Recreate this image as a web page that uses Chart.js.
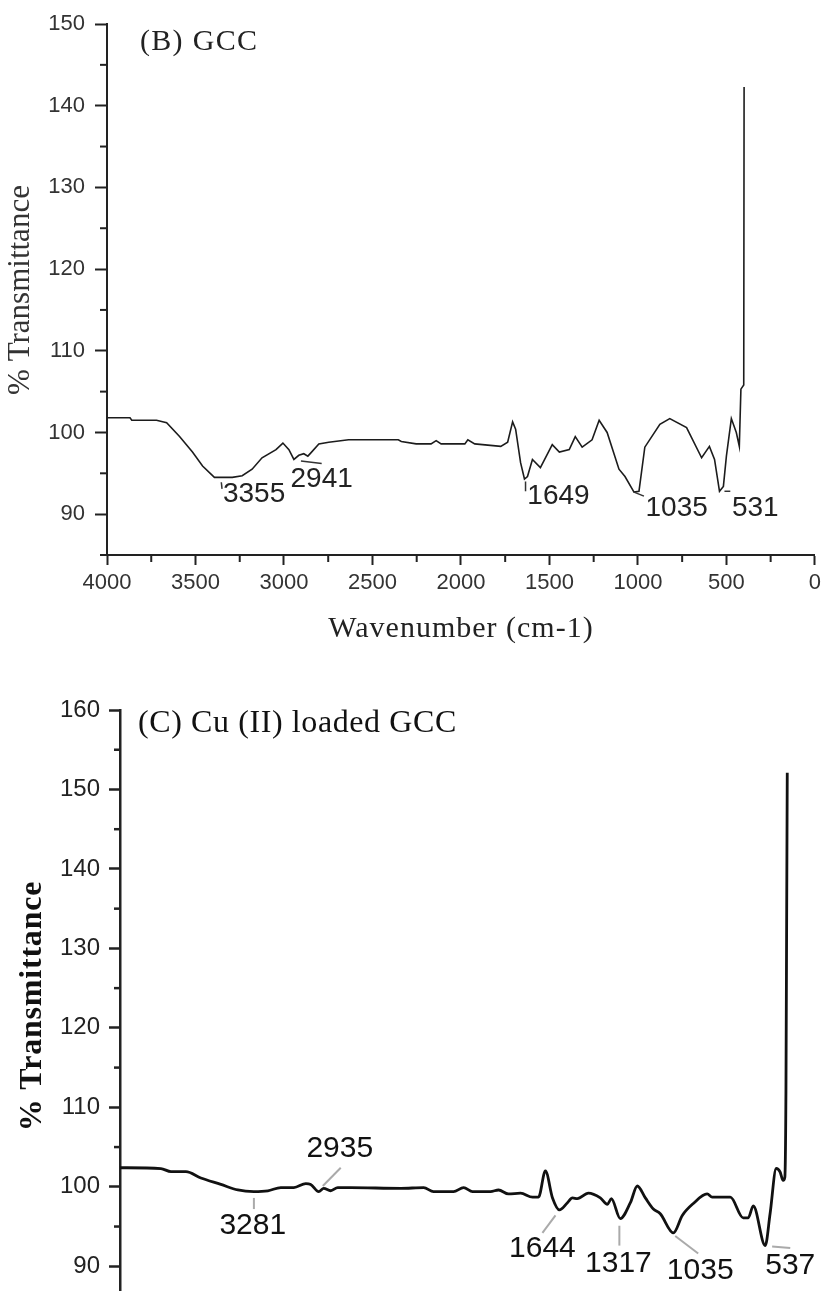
<!DOCTYPE html>
<html>
<head>
<meta charset="utf-8">
<script src="https://cdn.jsdelivr.net/npm/chart.js@4"></script>
<style>
  html, body { margin: 0; padding: 0; background: #fff; overflow: hidden; }
  #page { position: relative; width: 826px; height: 1291px; overflow: hidden; }
  #gccCanvas { position: absolute; left: 0; top: 0; }
  #cuCanvas { position: absolute; left: 0; top: 650px; }
</style>
</head>
<body>
<div id="page">
  <canvas id="gccCanvas" width="826" height="650"></canvas>
  <canvas id="cuCanvas" width="900" height="730"></canvas>
</div>
<script>
// (B) GCC spectrum
const gccWavenumber = [4000, 3870, 3860, 3720, 3663, 3590, 3517, 3460, 3393, 3292,
    3236, 3180, 3124, 3045, 3006, 2972, 2944, 2916, 2888, 2865,
    2848, 2803, 2747, 2635, 2354, 2337, 2253, 2169, 2140, 2112,
    1978, 1961, 1922, 1775, 1736, 1708, 1691, 1663, 1641, 1624,
    1596, 1551, 1484, 1444, 1388, 1354, 1315, 1259, 1219, 1174,
    1107, 1073, 1022, 994, 961, 876, 820, 725, 640, 596,
    567, 539, 517, 500, 472, 444, 427, 418, 402, 400];
const gccTransmittance = [101.8, 101.8, 101.5, 101.5, 101.2, 99.5, 97.6, 95.9, 94.5, 94.5,
    94.7, 95.5, 96.9, 97.9, 98.7, 97.9, 96.7, 97.2, 97.4, 97.1,
    97.5, 98.6, 98.8, 99.1, 99.1, 98.9, 98.6, 98.6, 99.0, 98.6,
    98.6, 99.1, 98.6, 98.3, 98.8, 101.3, 100.4, 96.3, 94.3, 94.6,
    96.7, 95.7, 98.5, 97.6, 97.9, 99.5, 98.2, 99.1, 101.5, 100.0,
    95.5, 94.6, 92.7, 92.8, 98.2, 101.0, 101.7, 100.6, 96.9, 98.3,
    96.7, 92.8, 93.4, 97.1, 101.7, 100.0, 98.3, 105.3, 105.8, 142.3];
const gccPeaks = ["3355", "2941", "1649", "1035", "531"];
const gccXTicks = [4000, 3500, 3000, 2500, 2000, 1500, 1000, 500, 0];
const gccYTicks = [90, 100, 110, 120, 130, 140, 150];

// (C) Cu (II) loaded GCC spectrum
const cuWavenumber = [4000, 3781, 3727, 3647, 3567, 3460, 3369, 3283, 3208, 3139,
    3069, 3005, 2979, 2936, 2909, 2872, 2834, 2765, 2497, 2374,
    2321, 2214, 2160, 2112, 2016, 1973, 1920, 1855, 1791, 1759,
    1722, 1684, 1647, 1604, 1577, 1551, 1492, 1428, 1390, 1369,
    1321, 1267, 1230, 1187, 1144, 1107, 1037, 989, 930, 856,
    829, 732, 663, 636, 609, 545, 519, 486, 466, 449,
    440, 434, 430, 427];
const cuTransmittance = [102.4, 102.3, 101.9, 101.9, 101.1, 100.3, 99.6, 99.4, 99.5, 99.9,
    99.9, 100.4, 100.3, 99.4, 99.8, 99.5, 99.9, 99.9, 99.8, 99.9,
    99.4, 99.4, 99.9, 99.4, 99.4, 99.6, 99.1, 99.2, 98.7, 98.7,
    102.0, 98.6, 97.1, 98.0, 98.6, 98.5, 99.2, 98.6, 97.8, 98.5,
    96.0, 98.0, 100.1, 98.6, 97.2, 96.6, 94.2, 96.4, 97.9, 99.1,
    98.7, 98.7, 96.1, 96.1, 97.6, 92.6, 96.6, 102.3, 101.9, 100.8,
    101.2, 112.0, 135.0, 152.1];
const cuPeaks = ["3281", "2935", "1644", "1317", "1035", "537"];
const cuXTicks = [4000, 3500, 3000, 2500, 2000, 1500, 1000, 500, 0];
const cuYTicks = [90, 100, 110, 120, 130, 140, 150, 160];

function toPoints(xs, ys) {
    return xs.map((x, i) => ({ x: x, y: ys[i] }));
}

function drawText(ctx, t) {
    ctx.save();
    ctx.font = t.font;
    ctx.fillStyle = t.color;
    ctx.letterSpacing = (t.spacing || 0) + "px";
    ctx.textAlign = t.align || "center";
    ctx.textBaseline = t.baseline || "alphabetic";
    ctx.translate(t.x, t.y);
    if (t.rotate) ctx.rotate(t.rotate);
    ctx.fillText(t.text, 0, 0);
    ctx.restore();
}

// minor ticks, titles and peak labels (Chart.js has no minor ticks)
const decorPlugin = {
    id: "decor",
    afterDraw(chart, args, opts) {
        const ctx = chart.ctx;
        const xScale = chart.scales.x;
        const yScale = chart.scales.y;
        ctx.save();
        ctx.strokeStyle = opts.axisColor;
        ctx.lineWidth = opts.axisWidth;
        for (let v = xScale.min; v <= xScale.max; v += opts.minorX) {
            if (v % opts.majorX === 0) continue;
            const px = xScale.getPixelForValue(v);
            ctx.beginPath();
            ctx.moveTo(px, xScale.top);
            ctx.lineTo(px, xScale.top + opts.minorLenX);
            ctx.stroke();
        }
        for (let v = yScale.min; v <= yScale.max; v += opts.minorY) {
            if (v % opts.majorY === 0) continue;
            const py = yScale.getPixelForValue(v);
            ctx.beginPath();
            ctx.moveTo(yScale.right, py);
            ctx.lineTo(yScale.right - opts.minorLenY, py);
            ctx.stroke();
        }

        // leader lines and peak numbers
        ctx.strokeStyle = opts.leaderColor;
        ctx.lineWidth = opts.leaderWidth;
        opts.peaks.forEach((p) => {
            const a = p.leader[0];
            const b = p.leader[1];
            ctx.beginPath();
            ctx.moveTo(xScale.getPixelForValue(a[0]), yScale.getPixelForValue(a[1]));
            ctx.lineTo(xScale.getPixelForValue(b[0]), yScale.getPixelForValue(b[1]));
            ctx.stroke();
            drawText(ctx, {
                text: p.text,
                x: xScale.getPixelForValue(p.at[0]),
                y: yScale.getPixelForValue(p.at[1]),
                font: opts.peakFont,
                color: opts.peakColor,
                baseline: "middle",
            });
        });
        ctx.restore();

        opts.texts.forEach((t) => drawText(ctx, t));
    },
};

// ---- panel B ----
new Chart(document.getElementById("gccCanvas").getContext("2d"), {
    type: "line",
    data: {
        datasets: [{
            data: toPoints(gccWavenumber, gccTransmittance),
            borderColor: "#1c1c1c",
            borderWidth: 1.6,
            pointRadius: 0,
            tension: 0,
        }],
    },
    options: {
        responsive: false,
        animation: false,
        layout: { padding: { top: 24, right: 7, left: 0, bottom: 0 } },
        scales: {
            x: {
                type: "linear",
                reverse: true,
                min: 0,
                max: 4000,
                afterBuildTicks: (scale) => { scale.ticks = gccXTicks.map((v) => ({ value: v })); },
                afterFit: (scale) => { scale.height = 95; },
                ticks: {
                    autoSkip: false,
                    maxRotation: 0,
                    padding: 5,
                    color: "#333",
                    font: { family: "Liberation Sans", size: 22 },
                    callback: (v) => String(v),
                },
                grid: { drawOnChartArea: false, tickLength: 10, tickWidth: 2, tickColor: "#222" },
                border: { color: "#222", width: 2 },
            },
            y: {
                min: 85,
                max: 150,
                afterBuildTicks: (scale) => { scale.ticks = gccYTicks.map((v) => ({ value: v })); },
                afterFit: (scale) => { scale.width = 107; },
                ticks: {
                    padding: 10,
                    color: "#333",
                    font: { family: "Liberation Sans", size: 22 },
                    callback: (v) => String(v),
                },
                grid: { drawOnChartArea: false, tickLength: 12, tickWidth: 2, tickColor: "#222" },
                border: { color: "#222", width: 2 },
            },
        },
        plugins: {
            legend: { display: false },
            tooltip: { enabled: false },
            decor: {
                axisColor: "#222",
                axisWidth: 2,
                minorX: 250, majorX: 500, minorLenX: 7,
                minorY: 5, majorY: 10, minorLenY: 7,
                leaderColor: "#333",
                leaderWidth: 1.5,
                peakFont: "28px 'Liberation Sans'",
                peakColor: "#222",
                peaks: [
                    { text: gccPeaks[0], at: [3169, 92.4], leader: [[3354, 93.9], [3350, 93.1]] },
                    { text: gccPeaks[1], at: [2787, 94.3], leader: [[2904, 96.5], [2787, 96.2]] },
                    { text: gccPeaks[2], at: [1449, 92.2], leader: [[1635, 94.0], [1635, 92.8]] },
                    { text: gccPeaks[3], at: [781, 90.7], leader: [[1022, 92.7], [966, 92.2]] },
                    { text: gccPeaks[4], at: [337, 90.7], leader: [[511, 92.8], [478, 92.8]] },
                ],
                texts: [
                    { text: "(B) GCC", x: 140, y: 50, align: "left", font: "30px 'Liberation Serif'", color: "#222", spacing: 1.3 },
                    { text: "% Transmittance", x: 21, y: 290, rotate: -Math.PI / 2, baseline: "middle", font: "31px 'Liberation Serif'", color: "#333" },
                    { text: "Wavenumber (cm-1)", x: 461, y: 637, font: "30px 'Liberation Serif'", color: "#222", spacing: 1 },
                ],
            },
        },
    },
    plugins: [decorPlugin],
});

// ---- panel C ----
new Chart(document.getElementById("cuCanvas").getContext("2d"), {
    type: "line",
    data: {
        datasets: [{
            data: toPoints(cuWavenumber, cuTransmittance),
            borderColor: "#111",
            borderWidth: 2.8,
            pointRadius: 0,
            cubicInterpolationMode: "monotone",
        }],
    },
    options: {
        responsive: false,
        animation: false,
        layout: { padding: { top: 60, right: 33, left: 0, bottom: 0 } },
        scales: {
            x: {
                type: "linear",
                reverse: true,
                min: 0,
                max: 4000,
                afterBuildTicks: (scale) => { scale.ticks = cuXTicks.map((v) => ({ value: v })); },
                afterFit: (scale) => { scale.height = 74; },
                ticks: {
                    autoSkip: false,
                    maxRotation: 0,
                    padding: 5,
                    color: "#222",
                    font: { family: "Liberation Sans", size: 24 },
                    callback: (v) => String(v),
                },
                grid: { drawOnChartArea: false, tickLength: 10, tickWidth: 2.5, tickColor: "#222" },
                border: { color: "#222", width: 2.5 },
            },
            y: {
                min: 85,
                max: 160,
                afterBuildTicks: (scale) => { scale.ticks = cuYTicks.map((v) => ({ value: v })); },
                afterFit: (scale) => { scale.width = 120; },
                ticks: {
                    padding: 9,
                    color: "#222",
                    font: { family: "Liberation Sans", size: 24 },
                    callback: (v) => String(v),
                },
                grid: { drawOnChartArea: false, tickLength: 11, tickWidth: 2.5, tickColor: "#222" },
                border: { color: "#222", width: 2.5 },
            },
        },
        plugins: {
            legend: { display: false },
            tooltip: { enabled: false },
            decor: {
                axisColor: "#222",
                axisWidth: 2.5,
                minorX: 250, majorX: 500, minorLenX: 6,
                minorY: 5, majorY: 10, minorLenY: 6,
                leaderColor: "#aaa",
                leaderWidth: 2,
                peakFont: "30px 'Liberation Sans'",
                peakColor: "#111",
                peaks: [
                    { text: cuPeaks[0], at: [3289, 95.1], leader: [[3283, 98.6], [3283, 97.2]] },
                    { text: cuPeaks[1], at: [2823, 104.8], leader: [[2818, 102.4], [2914, 100.1]] },
                    { text: cuPeaks[2], at: [1738, 92.2], leader: [[1668, 96.4], [1738, 94.2]] },
                    { text: cuPeaks[3], at: [1331, 90.3], leader: [[1326, 95.1], [1326, 92.6]] },
                    { text: cuPeaks[4], at: [893, 89.4], leader: [[1027, 93.8], [904, 91.6]] },
                    { text: cuPeaks[5], at: [411, 90.1], leader: [[508, 92.5], [411, 92.3]] },
                ],
                texts: [
                    { text: "(C) Cu (II) loaded GCC", x: 138, y: 82, align: "left", font: "32px 'Liberation Serif'", color: "#111", spacing: 0.6 },
                    { text: "% Transmittance", x: 33, y: 356, rotate: -Math.PI / 2, baseline: "middle", font: "bold 32px 'Liberation Serif'", color: "#111", spacing: 0.8 },
                ],
            },
        },
    },
    plugins: [decorPlugin],
});
</script>
</body>
</html>
